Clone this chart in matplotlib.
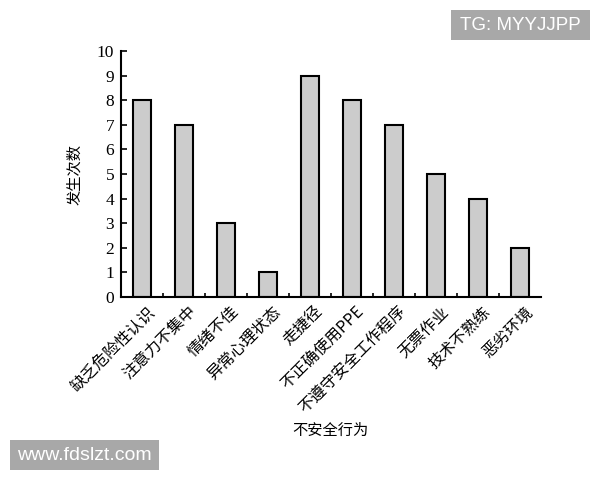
import numpy as np
import matplotlib
matplotlib.use('Agg')
import matplotlib.pyplot as plt
from matplotlib.patches import Rectangle

# data
categories = ['缺乏危险性认识', '注意力不集中', '情绪不佳', '异常心理状态', '走捷径',
              '不正确使用PPE', '不遵守安全工作程序', '无票作业', '技术不熟练', '恶劣环境']
counts = [8, 7, 3, 1, 9, 8, 7, 5, 4, 2]
yticks = list(range(0, 11))

cjk = ['Noto Sans CJK SC', 'DejaVu Sans']
serif = ['Liberation Serif', 'DejaVu Serif']

fig = plt.figure(figsize=(6, 4.8), dpi=100)
ax = fig.add_axes([0.2017, 0.381, 0.70, 0.513])

x = np.arange(len(categories))
ax.bar(x, counts, width=0.41, color='#cccccc', edgecolor='black', linewidth=1.5, zorder=2)

ax.set_xlim(-0.5, len(categories) - 0.5)
ax.set_ylim(0, 10)
ax.set_yticks(yticks)
ax.set_yticklabels([str(v) for v in yticks], family=serif, fontsize=12.5)
ax.tick_params(axis='y', direction='in', length=4, width=1.2, pad=5)

# ticks between bars on x, labels at bar centres
ax.set_xticks(x[:-1] + 0.5)
ax.set_xticklabels([])
ax.tick_params(axis='x', direction='in', length=3, width=1.2)
for xi, lab in zip(x, categories):
    ax.text(xi + 0.1, -0.25, lab, rotation=45, ha='right', va='top',
            rotation_mode='anchor', family=cjk, fontsize=11.5)

for s in ['top', 'right']:
    ax.spines[s].set_visible(False)
for s in ['left', 'bottom']:
    ax.spines[s].set_linewidth(1.5)

fig.text(0.125, 0.637, '发生次数', rotation=90, ha='center', va='center', family=cjk, fontsize=11)
fig.text(0.55, 0.104, '不安全行为', ha='center', va='center', family=cjk, fontsize=11)

# watermarks
fig.patches.append(Rectangle((451 / 600, 1 - 40 / 480), 139 / 600, 30 / 480,
                             transform=fig.transFigure, fc='#a8a8a8', ec='none'))
fig.text(520 / 600, 1 - 25 / 480, 'TG: MYYJJPP', ha='center', va='center', color='white',
         family=['Liberation Sans'], fontsize=13.5)
fig.patches.append(Rectangle((10 / 600, 1 - 470 / 480), 149 / 600, 30 / 480,
                             transform=fig.transFigure, fc='#a8a8a8', ec='none'))
fig.text(84.5 / 600, 1 - 455 / 480, 'www.fdslzt.com', ha='center', va='center', color='white',
         family=['Liberation Sans'], fontsize=14)

fig.savefig('out.png', dpi=100)
